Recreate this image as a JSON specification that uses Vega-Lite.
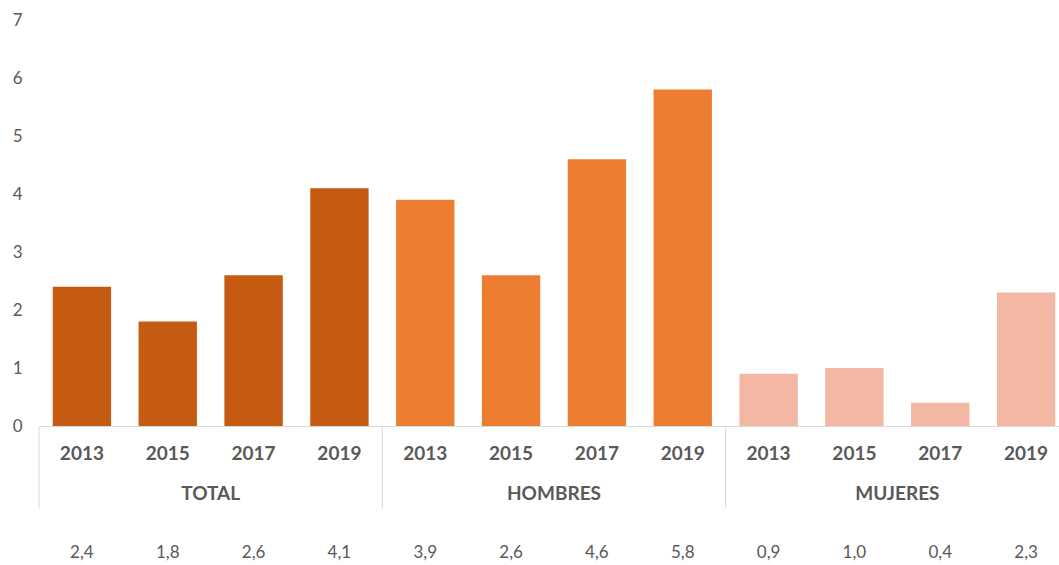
{
  "$schema": "https://vega.github.io/schema/vega-lite/v6.json",
  "autosize": "none",
  "width": 1020,
  "height": 406,
  "padding": {"left": 39, "top": 20, "right": 0, "bottom": 139},
  "background": "white",
  "config": {
    "view": {"stroke": null},
    "font": "Lato",
    "locale": {"number": {"decimal": ",", "thousands": ".", "grouping": [3], "currency": ["", " €"]}}
  },
  "data": {
    "values": [
      {"key": "TOTAL 2013", "group": "TOTAL", "year": "2013", "value": 2.4},
      {"key": "TOTAL 2015", "group": "TOTAL", "year": "2015", "value": 1.8},
      {"key": "TOTAL 2017", "group": "TOTAL", "year": "2017", "value": 2.6},
      {"key": "TOTAL 2019", "group": "TOTAL", "year": "2019", "value": 4.1},
      {"key": "HOMBRES 2013", "group": "HOMBRES", "year": "2013", "value": 3.9},
      {"key": "HOMBRES 2015", "group": "HOMBRES", "year": "2015", "value": 2.6},
      {"key": "HOMBRES 2017", "group": "HOMBRES", "year": "2017", "value": 4.6},
      {"key": "HOMBRES 2019", "group": "HOMBRES", "year": "2019", "value": 5.8},
      {"key": "MUJERES 2013", "group": "MUJERES", "year": "2013", "value": 0.9},
      {"key": "MUJERES 2015", "group": "MUJERES", "year": "2015", "value": 1.0},
      {"key": "MUJERES 2017", "group": "MUJERES", "year": "2017", "value": 0.4},
      {"key": "MUJERES 2019", "group": "MUJERES", "year": "2019", "value": 2.3}
    ]
  },
  "encoding": {
    "x": {
      "field": "key",
      "type": "nominal",
      "scale": {
        "domain": ["TOTAL 2013", "TOTAL 2015", "TOTAL 2017", "TOTAL 2019", "HOMBRES 2013", "HOMBRES 2015", "HOMBRES 2017", "HOMBRES 2019", "MUJERES 2013", "MUJERES 2015", "MUJERES 2017", "MUJERES 2019"],
        "range": [0, 1030],
        "paddingInner": 0,
        "paddingOuter": 0
      },
      "axis": {
        "title": null,
        "orient": "bottom",
        "domain": true,
        "domainColor": "#d9d9d9",
        "domainWidth": 1,
        "ticks": false,
        "tickSize": 0,
        "grid": false,
        "labelAngle": 0,
        "labelExpr": "split(datum.label, ' ')[1]",
        "labelFont": "Lato",
        "labelFontSize": 19,
        "labelFontWeight": "bold",
        "labelColor": "#595959",
        "labelBaseline": "middle",
        "labelPadding": 27
      }
    }
  },
  "layer": [
    {
      "mark": {"type": "bar", "width": {"band": 0.68}},
      "encoding": {
        "y": {
          "field": "value",
          "type": "quantitative",
          "scale": {"domain": [0, 7], "nice": false, "zero": true},
          "axis": {
            "title": null,
            "values": [0, 1, 2, 3, 4, 5, 6, 7],
            "format": "d",
            "domain": false,
            "ticks": false,
            "tickSize": 0,
            "grid": false,
            "labelFont": "Lato",
            "labelFontSize": 17,
            "labelColor": "#595959",
            "labelPadding": 17
          }
        },
        "color": {
          "field": "group",
          "type": "nominal",
          "scale": {"domain": ["TOTAL", "HOMBRES", "MUJERES"], "range": ["#C55A11", "#ED7D31", "#F4B7A3"]},
          "legend": null
        }
      }
    },
    {
      "mark": {"type": "text", "font": "Lato", "fontSize": 17, "color": "#595959", "baseline": "middle", "align": "center"},
      "encoding": {
        "y": {"datum": -2.19, "type": "quantitative"},
        "text": {"field": "value", "type": "quantitative", "format": ".1f"}
      }
    },
    {
      "transform": [{"filter": "datum.year == '2017'"}],
      "mark": {"type": "text", "font": "Lato", "fontSize": 19, "fontWeight": "bold", "color": "#595959", "baseline": "middle", "align": "center"},
      "encoding": {
        "x": {"field": "key", "type": "nominal", "bandPosition": 0},
        "y": {"datum": -1.18, "type": "quantitative"},
        "text": {"field": "group", "type": "nominal"}
      }
    },
    {
      "transform": [{"filter": "datum.year == '2013'"}],
      "mark": {"type": "rule", "color": "#d9d9d9", "strokeWidth": 1},
      "encoding": {
        "x": {"field": "key", "type": "nominal", "bandPosition": 0},
        "y": {"datum": 0, "type": "quantitative"},
        "y2": {"datum": -1.41}
      }
    }
  ]
}
